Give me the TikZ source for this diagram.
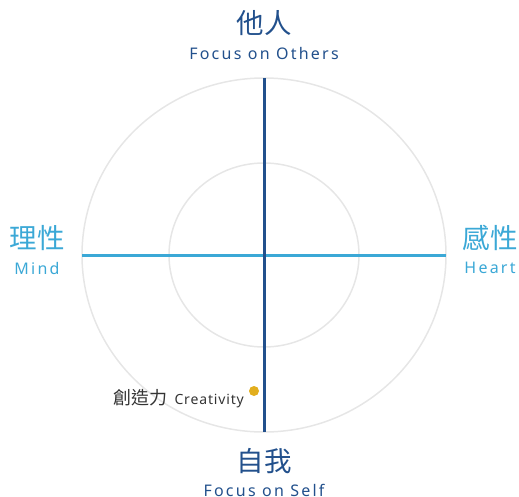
\documentclass[tikz,border=0pt]{standalone}
\usepackage{fontspec}
\setmainfont{Noto Sans CJK TC}
\newfontfamily\lat[LetterSpace=14]{Noto Sans}
\newfontfamily\latb[LetterSpace=6]{Noto Sans}
\definecolor{navy}{HTML}{22508C}
\definecolor{cyanb}{HTML}{3BA8D6}
\definecolor{ringg}{HTML}{E6E6E6}
\definecolor{dotc}{HTML}{E2AE1E}
\definecolor{txtg}{HTML}{333333}
\tikzset{
  ring/.style={draw=ringg, line width=1.5pt},
  cjk/.style={font=\fontsize{27.5}{27.5}\selectfont, inner sep=0pt},
  eng/.style={font=\fontsize{16}{16}\selectfont\lat, inner sep=0pt},
}
\begin{document}
\begin{tikzpicture}[x=1pt,y=-1pt]
\useasboundingbox (0,0) rectangle (519,497);
\coordinate (c) at (264,255);
\draw[ring] (c) ellipse [x radius=182, y radius=177];
\draw[ring] (c) ellipse [x radius=95, y radius=92];
\coordinate (l) at (82,255);
\coordinate (r) at (446,255);
\coordinate (t) at (264,78);
\coordinate (b) at (264,432);
\draw[cyanb, line width=3pt] (l) -- (r);
\draw[navy, line width=3pt] (t) -- (b);
\node[cjk, text=navy] (n1) at (264,23) {他人};
\node[eng, text=navy] (n2) at (264,54) {Focus on Others};
\node[cjk, text=cyanb] (n3) at (37,238) {理性};
\node[eng, text=cyanb] (n4) at (37,268) {Mind};
\node[cjk, text=cyanb] (n5) at (490,238) {感性};
\node[eng, text=cyanb] (n6) at (490,268) {Heart};
\node[cjk, text=navy] (n7) at (264,461) {自我};
\node[eng, text=navy] (n8) at (264,490) {Focus on Self};
\fill[dotc] (254,391) circle (5) coordinate (dot);
\node[anchor=east, inner sep=0pt, text=txtg] (cr) at (244,399) {\fontsize{18}{18}\selectfont 創造力\hspace{7pt}{\fontsize{14}{14}\selectfont\latb Creativity}};
\end{tikzpicture}
\end{document}
